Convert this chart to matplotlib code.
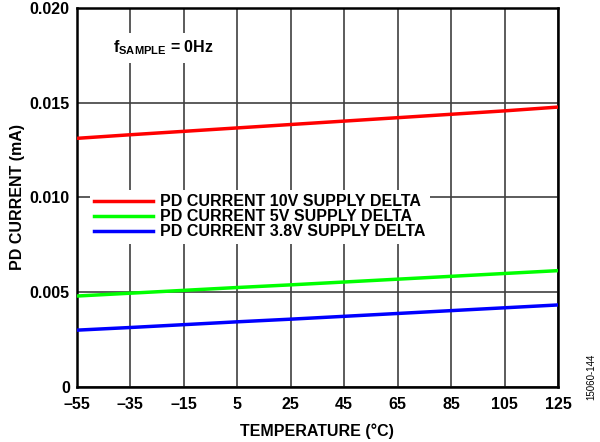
import matplotlib
matplotlib.use("Agg")
import matplotlib.pyplot as plt

plt.rcParams['font.family'] = ['Liberation Sans', 'DejaVu Sans']
plt.rcParams['font.weight'] = 'bold'
plt.rcParams['mathtext.fontset'] = 'custom'
plt.rcParams['mathtext.rm'] = 'Liberation Sans:bold'
plt.rcParams['mathtext.it'] = 'Liberation Sans:bold'
plt.rcParams['mathtext.bf'] = 'Liberation Sans:bold'
plt.rcParams['mathtext.sf'] = 'Liberation Sans:bold'

temps = [-55, -35, -15, 5, 25, 45, 65, 85, 105, 125]
pd_10v = [0.01312, 0.01331, 0.01349, 0.01367, 0.01385, 0.01403, 0.01421, 0.01439, 0.01457, 0.01477]
pd_5v = [0.00480, 0.00495, 0.00510, 0.00525, 0.00539, 0.00554, 0.00569, 0.00584, 0.00599, 0.00614]
pd_38v = [0.00300, 0.00314, 0.00329, 0.00344, 0.00358, 0.00373, 0.00388, 0.00403, 0.00418, 0.00433]
labels = ['PD CURRENT 10V SUPPLY DELTA', 'PD CURRENT 5V SUPPLY DELTA', 'PD CURRENT 3.8V SUPPLY DELTA']
colors = ['#ff0000', '#00ff00', '#0000ff']
xticks = [-55, -35, -15, 5, 25, 45, 65, 85, 105, 125]
xticklabels = ['\u201355', '\u201335', '\u201315', '5', '25', '45', '65', '85', '105', '125']
yticks = [0, 0.005, 0.010, 0.015, 0.020]
yticklabels = ['0', '0.005', '0.010', '0.015', '0.020']

FS = 11.5

fig = plt.figure(figsize=(6, 4.42), dpi=100)
ax = fig.add_axes([0.128, 0.1244, 0.802, 0.8576])

for ys, c, lab in zip([pd_10v, pd_5v, pd_38v], colors, labels):
    ax.plot(temps, ys, color=c, lw=2.5, label=lab, zorder=3)

ax.set_xlim(-55, 125)
ax.set_ylim(0, 0.020)
ax.set_xticks(xticks)
ax.set_xticklabels(xticklabels)
ax.set_yticks(yticks)
ax.set_yticklabels(yticklabels)
ax.tick_params(axis='x', length=0, labelsize=FS, pad=7.5)
ax.tick_params(axis='y', length=0, labelsize=FS, pad=5)
for lab in ax.get_xticklabels() + ax.get_yticklabels():
    lab.set_fontweight('bold')
ax.grid(True, color='#404040', lw=1.2, zorder=1)
ax.set_axisbelow(True)
for s in ax.spines.values():
    s.set_linewidth(1.8)
    s.set_color('black')

ax.set_xlabel('TEMPERATURE (°C)', fontsize=FS, fontweight='bold', labelpad=8)
ax.set_ylabel('PD CURRENT (mA)', fontsize=FS, fontweight='bold', labelpad=3)

ax.text(0.075, 0.895, r'f$_\mathrm{SAMPLE}$ = 0Hz', transform=ax.transAxes, fontsize=FS,
        fontweight='bold', va='center', ha='left',
        bbox=dict(facecolor='white', edgecolor='none', pad=4), zorder=4)

leg = ax.legend(loc='upper left', bbox_to_anchor=(0.01, 0.542), frameon=True, fancybox=False,
                edgecolor='none', facecolor='white', framealpha=1, fontsize=FS,
                handlelength=3.7, handletextpad=0.4, labelspacing=0.0, borderpad=0.3)
for t in leg.get_texts():
    t.set_fontweight('bold')
leg.set_zorder(5)

fig.text(0.985, 0.148, '15060-144', rotation=90, fontsize=7, fontweight='normal', ha='center', va='center')

fig.savefig('out.png', dpi=100)
